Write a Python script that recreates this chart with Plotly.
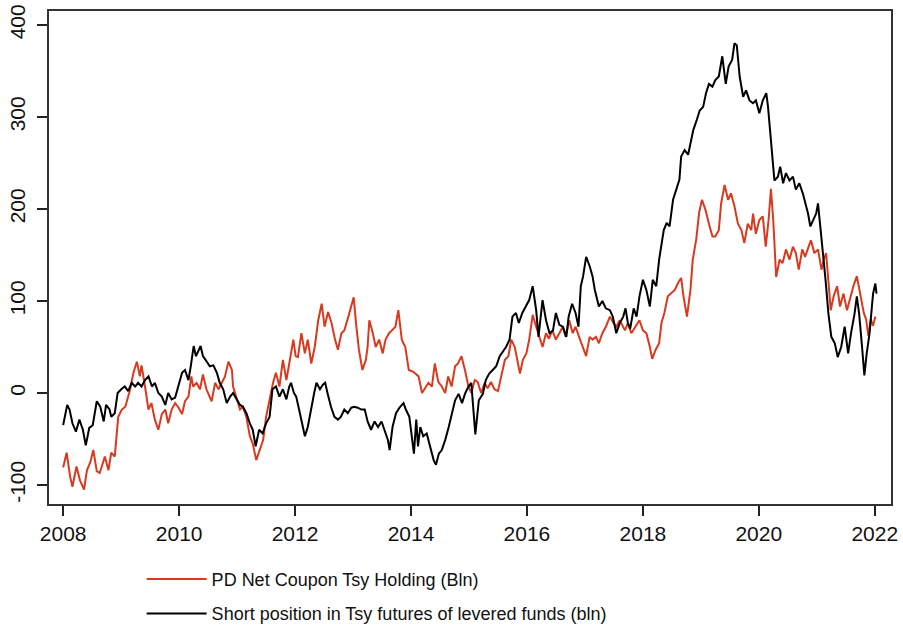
import datetime as dt
import plotly.graph_objects as go

# ---- data (decimal years, billions) ----
red_t = [2008.00, 2008.06, 2008.12, 2008.16, 2008.23, 2008.29, 2008.36, 2008.41, 2008.47, 2008.52,
         2008.58, 2008.63, 2008.72, 2008.78, 2008.83, 2008.89, 2008.95, 2009.01, 2009.07, 2009.15,
         2009.21, 2009.27, 2009.32, 2009.35, 2009.41, 2009.47, 2009.52, 2009.58, 2009.64, 2009.70,
         2009.76, 2009.81, 2009.87, 2009.93, 2009.99, 2010.05, 2010.10, 2010.16, 2010.21, 2010.24,
         2010.30, 2010.36, 2010.41, 2010.47, 2010.56, 2010.62, 2010.68, 2010.73, 2010.79, 2010.85,
         2010.91, 2010.93, 2010.99, 2011.05, 2011.10, 2011.16, 2011.22, 2011.27, 2011.33, 2011.39,
         2011.45, 2011.50, 2011.56, 2011.62, 2011.67, 2011.73, 2011.79, 2011.85, 2011.90, 2011.97,
         2012.01, 2012.05, 2012.11, 2012.17, 2012.22, 2012.28, 2012.34, 2012.40, 2012.46, 2012.51,
         2012.57, 2012.63, 2012.69, 2012.74, 2012.80, 2012.85, 2012.92, 2013.01, 2013.05, 2013.10,
         2013.16, 2013.22, 2013.25, 2013.28, 2013.34, 2013.39, 2013.45, 2013.51, 2013.56, 2013.62,
         2013.67, 2013.73, 2013.78, 2013.84, 2013.90, 2013.96, 2014.04, 2014.13, 2014.19, 2014.24,
         2014.30, 2014.36, 2014.41, 2014.47, 2014.53, 2014.59, 2014.64, 2014.70, 2014.76, 2014.81,
         2014.87, 2014.93, 2014.99, 2015.04, 2015.10, 2015.15, 2015.21, 2015.27, 2015.32, 2015.38,
         2015.44, 2015.50, 2015.56, 2015.62, 2015.68, 2015.73, 2015.79, 2015.85, 2015.88, 2015.93,
         2015.99, 2016.04, 2016.10, 2016.16, 2016.21, 2016.27, 2016.33, 2016.38, 2016.44, 2016.50,
         2016.56, 2016.62, 2016.67, 2016.73, 2016.79, 2016.84, 2016.90, 2016.96, 2017.02, 2017.08,
         2017.13, 2017.19, 2017.24, 2017.30, 2017.36, 2017.43, 2017.49, 2017.54, 2017.60, 2017.69,
         2017.74, 2017.80, 2017.87, 2017.94, 2018.00, 2018.06, 2018.12, 2018.16, 2018.22, 2018.28,
         2018.32, 2018.37, 2018.43, 2018.49, 2018.55, 2018.61, 2018.66, 2018.70, 2018.76, 2018.82,
         2018.86, 2018.92, 2018.97, 2019.02, 2019.08, 2019.14, 2019.20, 2019.25, 2019.31, 2019.35,
         2019.41, 2019.47, 2019.52, 2019.58, 2019.64, 2019.70, 2019.75, 2019.81, 2019.87, 2019.90,
         2019.95, 2020.01, 2020.07, 2020.12, 2020.17, 2020.21, 2020.25, 2020.30, 2020.36, 2020.41,
         2020.47, 2020.53, 2020.59, 2020.64, 2020.69, 2020.75, 2020.80, 2020.86, 2020.90, 2020.96,
         2021.02, 2021.08, 2021.12, 2021.16, 2021.20, 2021.24, 2021.29, 2021.35, 2021.40, 2021.46,
         2021.52, 2021.58, 2021.63, 2021.69, 2021.75, 2021.81, 2021.85, 2021.89, 2021.93, 2021.97,
         2022.01]
red_v = [-81, -65, -91, -102, -80, -95, -105, -84, -75, -62,
         -85, -87, -69, -84, -65, -69, -26, -18, -15, 3,
         22, 34, 18, 30, 7, -18, -11, -29, -40, -23,
         -18, -33, -18, -11, -16, -23, -9, -4, 18, 7,
         11, 4, 20, 4, -9, 11, 4, 11, 18, 34,
         25, 7, -7, -18, -15, -26, -47, -55, -73, -62,
         -51, -26, -7, 11, 22, 7, 36, 14, 32, 58,
         40, 39, 65, 43, 58, 32, 50, 79, 97, 72,
         88, 76, 58, 47, 65, 68, 83, 104, 76, 47,
         25, 36, 50, 79, 65, 50, 58, 43, 58, 65,
         68, 72, 90, 58, 50, 25, 23, 18, 0, 5,
         11, 7, 32, 12, 7, 0, 18, 7, 29, 32,
         40, 25, 7, 0, 14, 12, 0, 11, 5, 12,
         4, 2, 21, 36, 40, 58, 50, 32, 21, 36,
         43, 58, 85, 72, 61, 50, 65, 59, 68, 58,
         65, 72, 61, 79, 65, 72, 61, 50, 40, 61,
         58, 61, 54, 65, 72, 83, 76, 72, 79, 68,
         76, 65, 72, 79, 68, 65, 50, 37, 47, 54,
         76, 87, 105, 109, 112, 120, 125, 105, 83, 112,
         145, 167, 196, 210, 199, 184, 170, 170, 177, 206,
         226, 210, 217, 203, 184, 177, 163, 184, 177, 195,
         173, 188, 192, 159, 188, 222, 188, 126, 145, 141,
         156, 145, 159, 152, 134, 156, 148, 159, 166, 152,
         156, 134, 145, 152, 123, 90, 105, 116, 94, 108,
         90, 105, 116, 127, 108, 87, 80, 62, 80, 73,
         83]

blk_t = [2008.00, 2008.07, 2008.11, 2008.16, 2008.22, 2008.28, 2008.34, 2008.39, 2008.45, 2008.51,
         2008.58, 2008.64, 2008.70, 2008.74, 2008.80, 2008.83, 2008.89, 2008.94, 2009.00, 2009.06,
         2009.12, 2009.18, 2009.24, 2009.29, 2009.35, 2009.41, 2009.47, 2009.53, 2009.58, 2009.64,
         2009.70, 2009.76, 2009.81, 2009.87, 2009.93, 2009.99, 2010.05, 2010.10, 2010.16, 2010.20,
         2010.25, 2010.29, 2010.33, 2010.37, 2010.41, 2010.47, 2010.53, 2010.59, 2010.65, 2010.70,
         2010.76, 2010.82, 2010.88, 2010.93, 2010.99, 2011.05, 2011.10, 2011.16, 2011.22, 2011.27,
         2011.32, 2011.38, 2011.44, 2011.50, 2011.56, 2011.61, 2011.67, 2011.73, 2011.79, 2011.85,
         2011.90, 2011.93, 2011.98, 2012.02, 2012.07, 2012.13, 2012.17, 2012.22, 2012.28, 2012.33,
         2012.37, 2012.43, 2012.48, 2012.52, 2012.56, 2012.62, 2012.68, 2012.74, 2012.79, 2012.85,
         2012.91, 2012.97, 2013.02, 2013.08, 2013.14, 2013.20, 2013.25, 2013.31, 2013.37, 2013.43,
         2013.49, 2013.54, 2013.60, 2013.63, 2013.68, 2013.74, 2013.80, 2013.87, 2013.91, 2013.97,
         2014.02, 2014.05, 2014.09, 2014.12, 2014.16, 2014.21, 2014.27, 2014.33, 2014.39, 2014.43,
         2014.48, 2014.53, 2014.59, 2014.65, 2014.71, 2014.76, 2014.82, 2014.88, 2014.93, 2014.99,
         2015.04, 2015.08, 2015.11, 2015.17, 2015.24, 2015.29, 2015.35, 2015.41, 2015.47, 2015.53,
         2015.58, 2015.64, 2015.70, 2015.75, 2015.81, 2015.86, 2015.92, 2015.98, 2016.04, 2016.10,
         2016.16, 2016.20, 2016.27, 2016.33, 2016.39, 2016.45, 2016.50, 2016.56, 2016.62, 2016.68,
         2016.72, 2016.78, 2016.84, 2016.89, 2016.93, 2016.97, 2017.02, 2017.08, 2017.13, 2017.17,
         2017.24, 2017.30, 2017.36, 2017.43, 2017.48, 2017.54, 2017.60, 2017.66, 2017.70, 2017.74,
         2017.78, 2017.84, 2017.89, 2017.94, 2018.00, 2018.06, 2018.12, 2018.17, 2018.23, 2018.28,
         2018.32, 2018.36, 2018.41, 2018.46, 2018.52, 2018.58, 2018.63, 2018.66, 2018.72, 2018.78,
         2018.83, 2018.87, 2018.93, 2018.98, 2019.04, 2019.09, 2019.14, 2019.20, 2019.25, 2019.31,
         2019.37, 2019.43, 2019.48, 2019.54, 2019.58, 2019.62, 2019.67, 2019.73, 2019.78, 2019.84,
         2019.90, 2019.95, 2020.01, 2020.07, 2020.13, 2020.16, 2020.20, 2020.24, 2020.27, 2020.33,
         2020.37, 2020.42, 2020.47, 2020.53, 2020.59, 2020.64, 2020.70, 2020.76, 2020.81, 2020.85,
         2020.89, 2020.94, 2020.99, 2021.02, 2021.06, 2021.10, 2021.15, 2021.20, 2021.25, 2021.31,
         2021.36, 2021.42, 2021.48, 2021.54, 2021.59, 2021.65, 2021.69, 2021.73, 2021.78, 2021.82,
         2021.86, 2021.91, 2021.95, 2021.97, 2022.01, 2022.03]
blk_v = [-35, -13, -18, -33, -42, -29, -40, -57, -38, -35,
         -9, -15, -31, -13, -18, -26, -22, 0, 4, 7,
         2, 11, 7, 11, 7, 14, 18, 7, 11, 0,
         -4, -13, 0, -7, -5, 9, 22, 25, 14, 29,
         51, 40, 46, 51, 40, 34, 29, 30, 22, 11,
         4, -11, -4, 0, -7, -13, -15, -22, -33, -40,
         -58, -40, -44, -33, -26, 4, 7, -4, 4, -7,
         7, 11, 0, -4, -18, -37, -47, -37, -15, 0,
         11, 4, 9, 11, 0, -15, -26, -29, -26, -18,
         -22, -16, -15, -16, -18, -18, -31, -40, -31, -37,
         -31, -40, -51, -62, -37, -22, -16, -11, -18, -26,
         -51, -66, -29, -58, -37, -47, -44, -58, -73, -78,
         -66, -62, -51, -37, -22, -8, -1, -11, -1, 7,
         11, -18, -45, -8, -1, 14, 21, 25, 29, 40,
         45, 50, 58, 83, 87, 76, 87, 94, 101, 116,
         90, 61, 101, 79, 65, 68, 87, 74, 72, 61,
         83, 97, 87, 72, 116, 127, 148, 138, 127, 112,
         94, 100, 92, 90, 83, 65, 76, 83, 92, 76,
         70, 92, 83, 105, 123, 112, 94, 123, 116, 145,
         163, 177, 185, 181, 210, 221, 232, 257, 264, 259,
         275, 286, 297, 307, 311, 326, 336, 333, 340, 344,
         366, 336, 355, 362, 380, 378, 344, 322, 329, 318,
         315, 318, 304, 318, 326, 311, 282, 253, 231, 235,
         246, 228, 239, 231, 235, 221, 228, 217, 206, 195,
         181, 188, 195, 206, 177, 155, 123, 86, 61, 54,
         39, 50, 72, 43, 65, 86, 105, 86, 50, 19,
         43, 65, 94, 108, 119, 108]

tick_years = [2008, 2010, 2012, 2014, 2016, 2018, 2020, 2022]
y_ticks = [-100, 0, 100, 200, 300, 400]

red_name = "PD Net Coupon Tsy Holding (Bln)"
blk_name = "Short position in Tsy futures of levered funds (bln)"


def to_date(y):
    yr = int(y)
    return dt.datetime(yr, 1, 1) + dt.timedelta(days=(y - yr) * 365.25)


FONT = "Liberation Sans, Arial, Helvetica, sans-serif"

fig = go.Figure()
fig.add_trace(go.Scatter(x=[to_date(t) for t in red_t], y=red_v, mode="lines",
                         name=red_name, legendgroup="a",
                         line=dict(color="#d83a20", width=2)))
fig.add_trace(go.Scatter(x=[to_date(t) for t in blk_t], y=blk_v, mode="lines",
                         name=blk_name, legendgroup="b",
                         line=dict(color="#000000", width=2)))

fig.update_layout(
    width=903, height=628,
    margin=dict(l=49, r=12, t=11, b=124, autoexpand=False),
    paper_bgcolor="white", plot_bgcolor="white",
    font=dict(family=FONT, color="#111111"),
    showlegend=True,
    legend=dict(x=0.110, y=0.107, xanchor="left", yanchor="top", yref="container",
                font=dict(size=18, family=FONT, color="#111111"),
                itemwidth=60, tracegroupgap=8, bgcolor="rgba(0,0,0,0)"),
)
fig.update_xaxes(
    range=[to_date(2007.755), to_date(2022.28)],
    tickvals=[dt.datetime(y, 1, 1) for y in tick_years],
    ticktext=[str(y) for y in tick_years],
    ticks="outside", ticklen=10, tickwidth=1.5, tickcolor="#222222",
    showline=True, linecolor="#333333", linewidth=1.5, mirror=True,
    showgrid=False, zeroline=False, automargin=False,
    tickfont=dict(size=21, family=FONT, color="#111111"),
)
fig.update_yaxes(
    range=[-120.7, 415.2],
    tickvals=y_ticks, ticktext=[str(v) for v in y_ticks],
    tickangle=-90, ticklabelstandoff=4,
    ticks="outside", ticklen=10, tickwidth=1.5, tickcolor="#222222",
    showline=True, linecolor="#333333", linewidth=1.5, mirror=True,
    showgrid=False, zeroline=False, automargin=False,
    tickfont=dict(size=21, family=FONT, color="#111111"),
)

fig.write_html(
    "out.html",
    config={"displayModeBar": False},
    post_script="document.body.style.margin='0';document.body.style.overflow='hidden';",
)
